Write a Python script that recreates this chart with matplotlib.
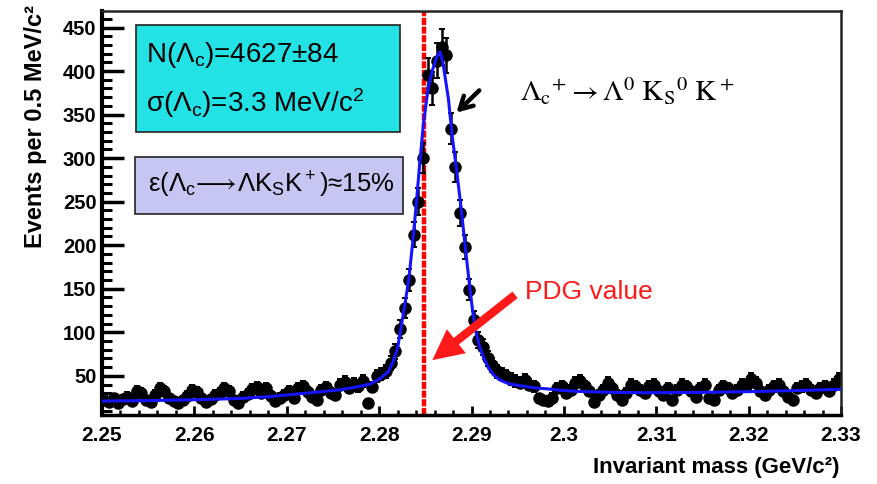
import numpy as np
import matplotlib.pyplot as plt
from matplotlib.patches import Rectangle
from matplotlib.ticker import MultipleLocator, FixedLocator

plt.rcParams['font.family'] = ['Liberation Sans', 'DejaVu Sans']
plt.rcParams['mathtext.fontset'] = 'custom'
plt.rcParams['mathtext.rm'] = 'Liberation Sans'
plt.rcParams['mathtext.it'] = 'Liberation Sans:italic'
plt.rcParams['mathtext.bf'] = 'Liberation Sans:bold'
plt.rcParams['mathtext.fallback'] = 'stixsans'

# histogram: 160 bins of 0.5 MeV from 2.25 to 2.33 GeV
bin_lo = 2.25
bin_width = 0.0005
counts = [
    22, 20, 24, 19, 23, 26, 21, 33, 30, 22,
    20, 28, 36, 33, 24, 21, 19, 22, 27, 34,
    31, 24, 20, 23, 28, 30, 36, 33, 22, 19,
    26, 29, 35, 37, 30, 36, 27, 21, 25, 28,
    33, 24, 36, 38, 31, 26, 22, 34, 37, 30,
    28, 40, 43, 36, 41, 38, 44, 19, 37, 50,
    52, 55, 65, 78, 104, 128, 160, 212, 250, 300,
    395, 380, 412, 428, 418, 334, 290, 237, 198, 149,
    114, 91, 83, 70, 62, 55, 52, 50, 46, 44,
    42, 45, 40, 38, 24, 22, 21, 25, 36, 38,
    30, 34, 42, 44, 38, 32, 20, 28, 34, 42,
    36, 28, 22, 30, 40, 38, 34, 30, 38, 40,
    32, 28, 36, 22, 34, 40, 38, 32, 26, 36,
    40, 24, 22, 34, 38, 36, 30, 34, 40, 38,
    46, 42, 33, 28, 34, 38, 40, 32, 26, 22,
    36, 38, 40, 34, 30, 36, 38, 32, 40, 46,
]

# fitted curve
fit_mass = [2.2500, 2.2550, 2.2600, 2.2650, 2.2680, 2.2715, 2.2740, 2.2758,
            2.2775, 2.2790, 2.2800, 2.2810, 2.2815, 2.2820, 2.2826, 2.2832,
            2.2836, 2.2840, 2.2844, 2.2848, 2.2853, 2.2858, 2.2863, 2.2866,
            2.2869, 2.2875, 2.2879, 2.2884, 2.2889, 2.2893, 2.2897, 2.2901,
            2.2904, 2.2908, 2.2913, 2.2918, 2.2923, 2.2930, 2.2940, 2.2953,
            2.2970, 2.2982, 2.3000, 2.3018, 2.3050, 2.3090, 2.3150, 2.3200,
            2.3250, 2.3300]
fit_vals = [21.0, 21.5, 22.5, 24.0, 26.0, 29.5, 32.0, 34.0,
            37.0, 40.5, 46.0, 55.0, 66.0, 82.0, 120.0, 160.0,
            200.0, 245.0, 295.0, 340.0, 380.0, 402.0, 418.0, 422.0,
            410.0, 368.0, 326.0, 285.0, 240.0, 200.0, 162.0, 126.0,
            104.0, 86.0, 71.0, 60.0, 52.0, 45.5, 41.0, 38.5,
            36.0, 35.0, 33.0, 32.0, 31.0, 30.5, 31.0, 31.8,
            33.0, 34.5]

pdg_mass = 2.2849
xticks = [2.25, 2.26, 2.27, 2.28, 2.29, 2.30, 2.31, 2.32, 2.33]
xtick_labels = ['2.25', '2.26', '2.27', '2.28', '2.29', '2.3', '2.31', '2.32', '2.33']

counts = np.array(counts, dtype=float)
centers = bin_lo + bin_width * (np.arange(len(counts)) + 0.5)
errors = np.sqrt(counts)

fig = plt.figure(figsize=(8.78, 4.84), dpi=100)
ax = fig.add_axes([0.1162, 0.1426, 0.8417, 0.8347])

ax.axvline(pdg_mass, color='#ff0000', lw=3.2, ls=(0, (1.6, 0.35)), zorder=1)
ax.errorbar(centers, counts, yerr=errors, fmt='o', color='black', ms=8,
            elinewidth=1.8, capsize=2, capthick=1.4, zorder=2)
ax.plot(fit_mass, fit_vals, color='#1414ff', lw=2.2, zorder=3)

ax.set_xlim(2.25, 2.33)
ax.set_ylim(5, 469)

ax.xaxis.set_major_locator(FixedLocator(xticks))
ax.set_xticklabels(xtick_labels)
ax.xaxis.set_minor_locator(MultipleLocator(0.002))
ax.yaxis.set_major_locator(FixedLocator(np.arange(50, 451, 50)))
ax.yaxis.set_minor_locator(MultipleLocator(10))

ax.tick_params(axis='y', which='major', direction='in', length=16, width=2.5,
               pad=4, labelsize=14.5)
ax.tick_params(axis='y', which='minor', direction='in', length=7, width=2.2)
ax.tick_params(axis='x', which='major', direction='in', length=6.5, width=2,
               pad=8, labelsize=15)
ax.tick_params(axis='x', which='minor', direction='in', length=3.5, width=1.8)
for lab in ax.get_xticklabels() + ax.get_yticklabels():
    lab.set_fontweight('bold')

ax.spines['left'].set_linewidth(3)
ax.spines['bottom'].set_linewidth(2.5)
for s in ('top', 'right'):
    ax.spines[s].set_linewidth(1.8)
    ax.spines[s].set_color('#222222')

# info boxes
ax.add_patch(Rectangle((0.046, 0.7005), 0.3572, 0.2648, transform=ax.transAxes,
                       facecolor='#22e2e6', edgecolor='#222222', lw=1.2, zorder=4))
ax.add_patch(Rectangle((0.0447, 0.4975), 0.3626, 0.1411, transform=ax.transAxes,
                       facecolor='#c6c6f2', edgecolor='#222222', lw=1.2, zorder=4))
ax.text(0.0595, 0.891, r'N($\Lambda_\mathrm{c}$)=4627±84', transform=ax.transAxes,
        fontsize=20, va='center', ha='left', zorder=5)
ax.text(0.0595, 0.772, r'σ($\Lambda_\mathrm{c}$)=3.3 MeV/c$^2$', transform=ax.transAxes,
        fontsize=20, va='center', ha='left', zorder=5)
ax.text(0.0622, 0.569,
        r'ε($\Lambda_\mathrm{c}\!\longrightarrow\!\Lambda\mathrm{K_S K^+}$)≈15%',
        transform=ax.transAxes, fontsize=18.5, va='center', ha='left', zorder=5)

ax.text(0.5656, 0.777,
        r'$\Lambda_\mathrm{c}{}^{+} \rightarrow \Lambda^0\ \mathrm{K_S}{}^0\ \mathrm{K}^+$',
        transform=ax.transAxes, fontsize=21, va='baseline', ha='left',
        math_fontfamily='stix')

ax.annotate('', xy=(2.28815, 350), xytext=(2.29105, 380),
            arrowprops=dict(arrowstyle='->,head_length=0.9,head_width=0.5',
                            color='black', lw=3.2))

ax.text(0.5724, 0.3045, 'PDG value', transform=ax.transAxes, fontsize=19,
        color='#ff1a1a', va='center', ha='left')
ax.annotate('', xy=(2.28552, 66), xytext=(2.29495, 145),
            arrowprops=dict(arrowstyle='simple,head_length=1.1,head_width=1.1,tail_width=0.3',
                            color='#ff1a1a', mutation_scale=20, lw=0))

fig.text(36 / 878, 1 - 5 / 484, 'Events per 0.5 MeV/c²', rotation=90,
         fontsize=17, fontweight='bold', va='top', ha='center')
fig.text(840 / 878, 1 - 468 / 484, 'Invariant mass (GeV/c²)', fontsize=16,
         fontweight='bold', va='center', ha='right')

fig.savefig('out.png', dpi=100, facecolor='white')
